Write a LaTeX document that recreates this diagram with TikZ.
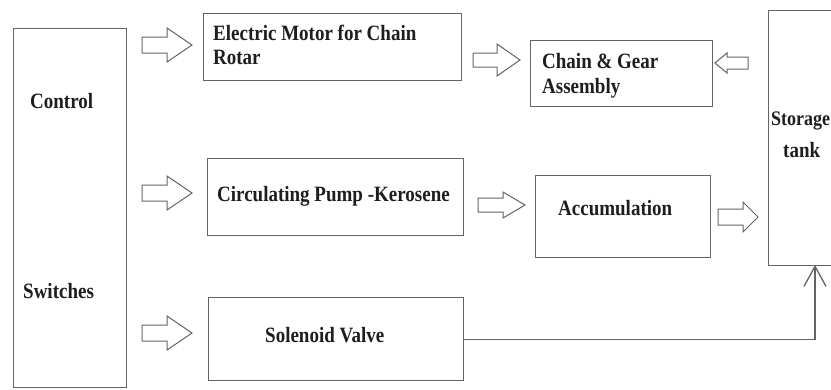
\documentclass[tikz,border=0pt]{standalone}
\usepackage{fontspec}
\setmainfont{Liberation Serif}
\usetikzlibrary{arrows.meta}
\definecolor{linegray}{RGB}{100,100,100}
\definecolor{txt}{RGB}{30,30,30}
\newcommand{\tall}[1]{\scalebox{1}[1.15]{#1}}
\newcommand{\rblock}[7]{% name, xtail, xtip, y, shaft half, head half, xheadstart
  \draw[barrow] (#2,#4-#5) -- (#7,#4-#5) -- (#7,#4-#6) -- (#3,#4) -- (#7,#4+#6) -- (#7,#4+#5) -- (#2,#4+#5) -- cycle;
  \coordinate (#1) at (#3,#4);}
\begin{document}
\begin{tikzpicture}[x=1pt,y=-1pt,
  box/.style={draw=linegray, line width=1.3pt, inner sep=0pt, anchor=north west},
  lbl/.style={font=\bfseries\fontsize{19}{24}\selectfont, text=txt, inner sep=0pt, anchor=base west, align=left},
  barrow/.style={draw=linegray, line width=1pt, fill=white, line join=miter}]
\useasboundingbox (0,0) rectangle (831,389);
\fill[white] (0,0) rectangle (831,389);
% boxes
\node[box, minimum width=113pt, minimum height=359pt] (ctrl) at (13,28) {};
\node[box, minimum width=258pt, minimum height=67pt] (motor) at (203,13) {};
\node[box, minimum width=182pt, minimum height=66pt] (chain) at (530,40) {};
\node[box, minimum width=80pt, minimum height=255pt] (tank) at (768,10) {};
\node[box, minimum width=256pt, minimum height=77pt] (pump) at (207,158) {};
\node[box, minimum width=175pt, minimum height=82pt] (acc) at (535,175) {};
\node[box, minimum width=255pt, minimum height=83pt] (sol) at (208,297) {};
% labels
\node[lbl] (tctrl) at (30,108) {\tall{Control}};
\node[lbl] (tsw) at (23,298) {\tall{Switches}};
\node[lbl] (tmotor1) at (213,40) {\tall{Electric Motor for Chain}};
\node[lbl] (tmotor2) at (213,64) {\tall{Rotar}};
\node[lbl] (tchain1) at (542,68) {\tall{Chain \& Gear}};
\node[lbl] (tchain2) at (542,93) {\tall{Assembly}};
\node[lbl, font=\bfseries\fontsize{18}{24}\selectfont] (ttank1) at (771,125) {\tall{Storage}};
\node[lbl] (ttank2) at (783,157) {\tall{tank}};
\node[lbl] (tpump) at (217,201) {\tall{Circulating Pump -Kerosene}};
\node[lbl] (tacc) at (558,215) {\tall{Accumulation}};
\node[lbl] (tsol) at (265,342) {\tall{Solenoid Valve}};
% block arrows
\rblock{a1}{142}{192}{45}{8}{17}{167}
\rblock{a2}{142}{192}{193}{8}{17}{167}
\rblock{a3}{142}{192}{333}{8}{17}{167}
\rblock{a4}{473}{520}{60}{7}{16}{497}
\rblock{a5}{478}{525}{205}{7}{13}{503}
\rblock{a6}{718}{758}{217}{8}{15}{743}
\draw[barrow] (748,57) -- (727,57) -- (727,53) -- (715,63) -- (727,73) -- (727,69) -- (748,69) -- cycle;
% connector
\coordinate (tip) at (815,265);
\draw[draw=linegray, line width=1.3pt, -{Straight Barb[length=20pt,width=22pt,line width=1.3pt]}] (sol.east) -| (tip);
\end{tikzpicture}
\end{document}
